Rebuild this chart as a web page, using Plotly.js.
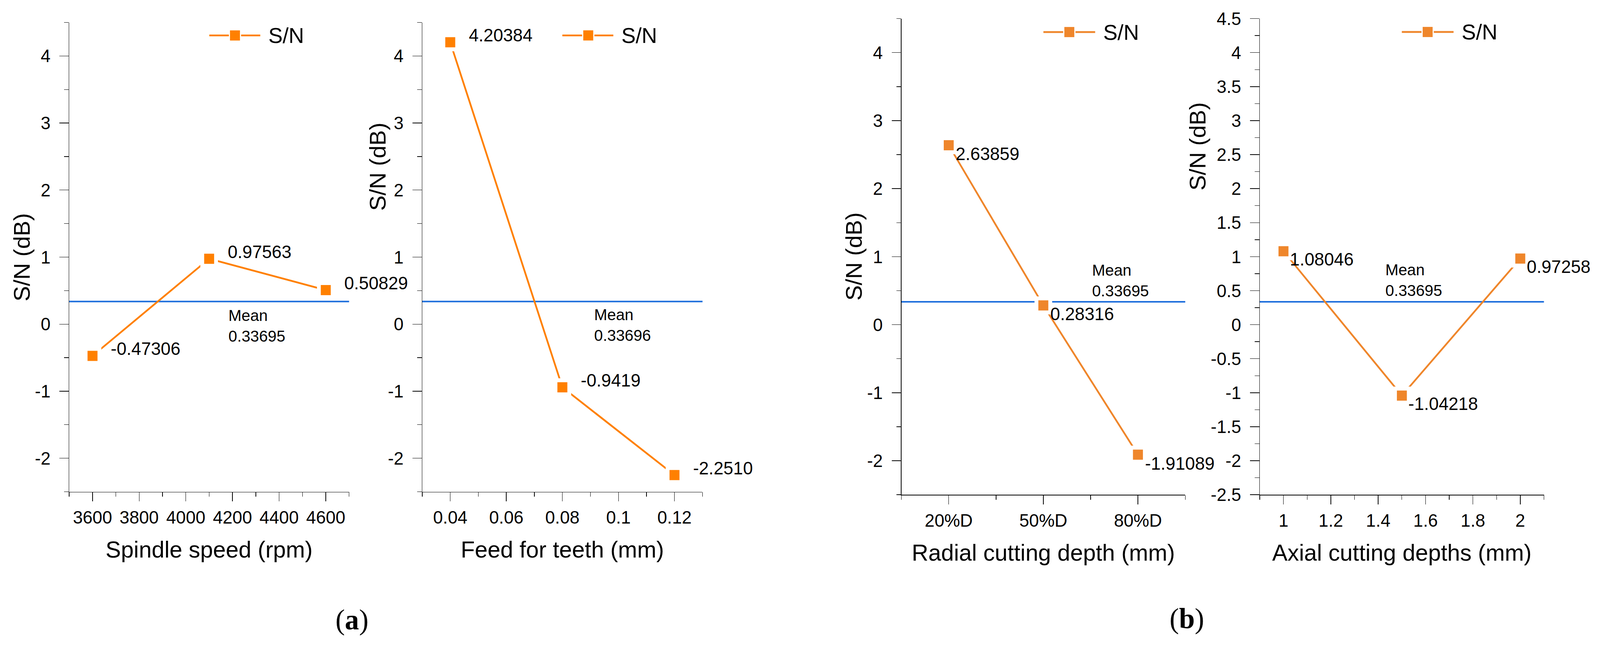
<!DOCTYPE html>
<html>
<head>
<meta charset="utf-8">
<script src="https://cdn.plot.ly/plotly-3.0.1.min.js"></script>
<style>html,body{margin:0;padding:0;background:#ffffff;overflow:hidden;}</style>
</head>
<body>
<div id="chart" style="width:4174px;height:1652px;"></div>
<script>
// ---------------- data ----------------
const seriesName = 'S/N';
const yTitle = 'S/N (dB)';

const spindleSpeed = [3600, 4100, 4600];
const spindleSN = [-0.47306, 0.97563, 0.50829];
const spindleLabels = ['-0.47306', '0.97563', '0.50829'];

const feedTeeth = [0.04, 0.08, 0.12];
const feedSN = [4.20384, -0.9419, -2.25106];
const feedLabels = ['4.20384', '-0.9419', '-2.2510'];

const radialDepth = ['20%D', '50%D', '80%D'];
const radialSN = [2.63859, 0.28316, -1.91089];
const radialLabels = ['2.63859', '0.28316', '-1.91089'];

const axialDepth = [1, 1.5, 2];
const axialSN = [1.08046, -1.04218, 0.97258];
const axialLabels = ['1.08046', '-1.04218', '0.97258'];

const meanSN = [0.33695, 0.33696, 0.33695, 0.33695];

const xTitles = ['Spindle speed (rpm)', 'Feed for teeth (mm)', 'Radial cutting depth (mm)', 'Axial cutting depths (mm)'];

const spindleTicks = [3600, 3800, 4000, 4200, 4400, 4600];
const feedTicks = [0.04, 0.06, 0.08, 0.1, 0.12];
const axialTicks = [1, 1.2, 1.4, 1.6, 1.8, 2];
const yTicksInt = [-2, -1, 0, 1, 2, 3, 4];
const yTicksHalf = [-2.5, -2, -1.5, -1, -0.5, 0, 0.5, 1, 1.5, 2, 2.5, 3, 3.5, 4, 4.5];
const panelTags = ['(<b>a</b>)', '(<b>b</b>)'];

// ---------------- layout helpers ----------------
const W = 4174, H = 1652;
const fx = v => v / W;
const fy = v => 1 - v / H;
const FONT = 'Liberation Sans, Arial, Helvetica, sans-serif';
const BLUE = '#1f6fdc';

// fit the 4174x1652 drawing to the actual viewport
(function fitToViewport() {
  const vw = window.innerWidth || W, vh = window.innerHeight || H;
  const sx = vw / W, sy = vh / H;
  if (Math.abs(sx - 1) > 0.001 || Math.abs(sy - 1) > 0.001) {
    const el = document.getElementById('chart');
    el.style.transformOrigin = '0 0';
    el.style.transform = 'scale(' + sx + ',' + sy + ')';
  }
})();

const panels = [
  { x: spindleSpeed, y: spindleSN, labels: spindleLabels, color: '#ff8000',
    xd: [180.5, 910.7], yd: [57.5, 1259.5], xr: [3500, 4700],
    xtv: spindleTicks, xtt: spindleTicks.map(String), xminor: {tick0: 3500, dtick: 100},
    ytv: yTicksInt, yminor: {tick0: -2.5, dtick: 0.5},
    lab: {dx: 46, dy: 18}, meanFrac: 0.566, meanDy: -62, ytitlePos: [57, 659],
    leg: {l0: 546, l1: 679, m: 613, y: 90.8, t: 698} },
  { x: feedTeeth, y: feedSN, labels: feedLabels, color: '#ff8000',
    xd: [1101.5, 1832.7], yd: [57.5, 1259.5], xr: [0.03, 0.13],
    xtv: feedTicks, xtt: feedTicks.map(String), xminor: {tick0: 0.03, dtick: 0.01},
    ytv: yTicksInt, yminor: {tick0: -2.5, dtick: 0.5},
    lab: {dx: 46, dy: 18}, meanFrac: 0.61, meanDy: -60, ytitlePos: [986, 427],
    leg: {l0: 1467, l1: 1600, m: 1534.6, y: 90.7, t: 1619} },
  { x: radialDepth.map((_, k) => k), y: radialSN, labels: radialLabels, color: '#ef862b',
    xd: [2351.6, 3092], yd: [47.6, 1267.2], xr: [-0.5, 2.5],
    xtv: radialDepth.map((_, k) => k), xtt: radialDepth, xminor: {tick0: -0.5, dtick: 0.5},
    ytv: yTicksInt, yminor: {tick0: -2.5, dtick: 0.5},
    lab: {dx: 16, dy: -22}, meanFrac: 0.669, meanDy: 54, ytitlePos: [2228, 657],
    leg: {l0: 2722, l1: 2857, m: 2789.6, y: 82.1, t: 2875.7} },
  { x: axialDepth, y: axialSN, labels: axialLabels, color: '#ef862b',
    xd: [3286.5, 4027.8], yd: [47.6, 1267.2], xr: [0.9, 2.1],
    xtv: axialTicks, xtt: axialTicks.map(String), xminor: {tick0: 0.9, dtick: 0.1},
    ytv: yTicksHalf, yminor: {tick0: -2.5, dtick: 0.25},
    lab: {dx: 15, dy: -21}, meanFrac: 0.439, meanDy: 55, ytitlePos: [3125, 375],
    leg: {l0: 3657, l1: 3792, m: 3724.4, y: 81.9, t: 3811} }
];

const traces = [];
const annotations = [];
const shapes = [];
const layout = {
  width: W, height: H,
  margin: {l: 0, r: 0, t: 0, b: 0, pad: 0},
  paper_bgcolor: '#ffffff', plot_bgcolor: 'rgba(0,0,0,0)',
  showlegend: false,
  font: {family: FONT, color: '#000000', size: 46},
  hovermode: false
};

panels.forEach((p, i) => {
  const n = i === 0 ? '' : String(i + 1);
  const xr = 'x' + n, yr = 'y' + n;

  traces.push({
    type: 'scatter', mode: 'lines+markers', name: seriesName,
    x: p.x, y: p.y, xaxis: xr, yaxis: yr,
    line: {color: p.color, width: 4.6},
    marker: {symbol: 'square', size: 36, color: p.color, line: {color: '#ffffff', width: 10}},
    cliponaxis: false, hoverinfo: 'skip'
  });

  layout['xaxis' + n] = {
    domain: [fx(p.xd[0]), fx(p.xd[1])], anchor: yr,
    range: p.xr, type: 'linear',
    tickmode: 'array', tickvals: p.xtv, ticktext: p.xtt,
    ticks: 'outside', ticklen: 23, tickwidth: 1.4, tickcolor: '#000',
    minor: {tickmode: 'linear', tick0: p.xminor.tick0, dtick: p.xminor.dtick, ticks: 'outside', ticklen: 11.5, tickwidth: 1.4, tickcolor: '#000', showgrid: false},
    ticklabelstandoff: 2,
    showline: true, linecolor: '#000', linewidth: 1.4, mirror: false,
    showgrid: false, zeroline: false, fixedrange: true,
    tickfont: {family: FONT, size: 46, color: '#000'},
    title: {text: xTitles[i], font: {family: FONT, size: 60, color: '#000'}, standoff: 36}
  };

  layout['yaxis' + n] = {
    domain: [fy(p.yd[1]), fy(p.yd[0])], anchor: xr,
    range: [-2.5, 4.5], type: 'linear',
    tickmode: 'array', tickvals: p.ytv, ticktext: p.ytv.map(String),
    ticks: 'outside', ticklen: 24, tickwidth: 1.4, tickcolor: '#000',
    minor: {tickmode: 'linear', tick0: p.yminor.tick0, dtick: p.yminor.dtick, ticks: 'outside', ticklen: 12, tickwidth: 1.4, tickcolor: '#000', showgrid: false},
    ticklabelstandoff: 14,
    showline: true, linecolor: '#000', linewidth: 1.4, mirror: false,
    showgrid: false, zeroline: false, fixedrange: true,
    tickfont: {family: FONT, size: 46, color: '#000'}
  };

  // y-axis title (placed where the original puts it)
  annotations.push({
    xref: 'paper', yref: 'paper', x: fx(p.ytitlePos[0]), y: fy(p.ytitlePos[1]),
    xanchor: 'center', yanchor: 'middle', textangle: -90, showarrow: false,
    text: yTitle, font: {family: FONT, size: 59, color: '#000'}
  });

  // mean line
  shapes.push({
    type: 'line', layer: 'below', xref: xr + ' domain', x0: 0, x1: 1,
    yref: yr, y0: meanSN[i], y1: meanSN[i],
    line: {color: BLUE, width: 4}
  });
  annotations.push({
    xref: xr + ' domain', x: p.meanFrac, yref: yr, y: meanSN[i], yshift: p.meanDy,
    xanchor: 'left', yanchor: 'middle', align: 'left', showarrow: false,
    text: 'Mean<br>' + meanSN[i].toFixed(5),
    font: {family: FONT, size: 41, color: '#000'}
  });

  // point labels
  p.x.forEach((xv, k) => {
    annotations.push({
      xref: xr, yref: yr, x: xv, y: p.y[k],
      xshift: p.lab.dx, yshift: p.lab.dy,
      xanchor: 'left', yanchor: 'middle', showarrow: false,
      text: p.labels[k], font: {family: FONT, size: 46, color: '#000'}
    });
  });

  // legend (drawn to match original symbol proportions)
  const L = p.leg;
  shapes.push({type: 'line', xref: 'paper', yref: 'paper', x0: fx(L.l0), x1: fx(L.m - 16), y0: fy(L.y), y1: fy(L.y), line: {color: p.color, width: 4.6}});
  shapes.push({type: 'line', xref: 'paper', yref: 'paper', x0: fx(L.m + 16), x1: fx(L.l1), y0: fy(L.y), y1: fy(L.y), line: {color: p.color, width: 4.6}});
  shapes.push({type: 'rect', xref: 'paper', yref: 'paper', x0: fx(L.m - 13), x1: fx(L.m + 13), y0: fy(L.y + 13), y1: fy(L.y - 13), fillcolor: p.color, line: {width: 0}});
  annotations.push({
    xref: 'paper', yref: 'paper', x: fx(L.t), y: fy(L.y),
    xanchor: 'left', yanchor: 'middle', showarrow: false,
    text: seriesName, font: {family: FONT, size: 56, color: '#000'}
  });
});

// sub-figure tags
annotations.push({xref: 'paper', yref: 'paper', x: fx(918), y: fy(1587), xanchor: 'center', yanchor: 'middle', showarrow: false,
  text: panelTags[0], font: {family: 'Liberation Serif, Times New Roman, serif', size: 74, color: '#000'}});
annotations.push({xref: 'paper', yref: 'paper', x: fx(3096), y: fy(1584), xanchor: 'center', yanchor: 'middle', showarrow: false,
  text: panelTags[1], font: {family: 'Liberation Serif, Times New Roman, serif', size: 74, color: '#000'}});

layout.annotations = annotations;
layout.shapes = shapes;

Plotly.newPlot('chart', traces, layout, {displayModeBar: false, staticPlot: true});
</script>
</body>
</html>
